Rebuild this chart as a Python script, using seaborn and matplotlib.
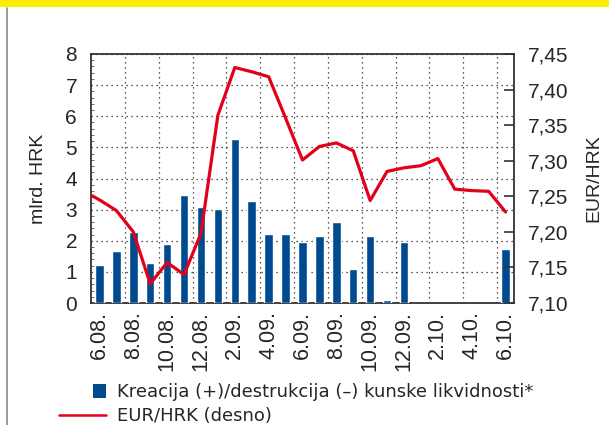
import numpy as np
import pandas as pd
import matplotlib
matplotlib.use("Agg")
import matplotlib.pyplot as plt
import seaborn as sns
from matplotlib.patches import Rectangle
from matplotlib.lines import Line2D
from matplotlib.legend_handler import HandlerPatch
from matplotlib.ticker import MultipleLocator, FuncFormatter

# monthly data, 6.08. - 6.10.
months = ["6.08.", "7.08.", "8.08.", "9.08.", "10.08.", "11.08.", "12.08.",
          "1.09.", "2.09.", "3.09.", "4.09.", "5.09.", "6.09.", "7.09.",
          "8.09.", "9.09.", "10.09.", "11.09.", "12.09.", "1.10.", "2.10.",
          "3.10.", "4.10.", "5.10.", "6.10."]
# no creation of liquidity 1.10. - 5.10.
liquidity = [1.22, 1.67, 2.28, 1.28, 1.90, 3.47, 3.08, 3.02, 5.27, 3.28,
             2.22, 2.22, 1.96, 2.15, 2.60, 1.09, 2.15, 0.10, 1.96,
             None, None, None, None, None, 1.74]
# previous month (5.08.) is kept so the line runs in from the left edge
eur_hrk_prev = 7.258
eur_hrk = [7.245, 7.230, 7.200, 7.127, 7.157, 7.140, 7.198, 7.364, 7.431,
           7.425, 7.418, 7.360, 7.301, 7.320, 7.325, 7.314, 7.244, 7.285,
           7.290, 7.293, 7.303, 7.260, 7.258, 7.257, 7.228]

BLUE = "#004b8f"
RED = "#e2001a"
FONT = ["Liberation Sans", "DejaVu Sans"]

sns.set_style("white")
plt.rcParams["font.family"] = FONT

bars = pd.DataFrame({"month": months, "value": pd.to_numeric(pd.Series(liquidity, dtype="float"))})
line = pd.DataFrame({"pos": np.arange(-1, len(months)),
                     "rate": [eur_hrk_prev] + eur_hrk})

fig = plt.figure(figsize=(6.09, 4.25), dpi=100)
ax = fig.add_axes([0.1494, 0.287, 0.6946, 0.586])

sns.barplot(data=bars, x="month", y="value", color=BLUE, width=0.5,
            saturation=1, ax=ax, zorder=3)
ax.set_xlim(-0.5, len(months) - 0.5)
ax.set_ylim(0, 8)
ax.yaxis.set_major_locator(MultipleLocator(1))
ax.yaxis.set_minor_locator(MultipleLocator(0.2))
ax.set_xticks(np.arange(0, len(months), 2))
ax.set_xticklabels(months[::2], rotation=90, fontsize=15.5)
ax.set_xticks(np.arange(1.5, len(months) - 1, 2), minor=True)
ax.tick_params(axis="x", which="both", length=0, pad=6)
ax.tick_params(axis="y", which="major", labelsize=15, length=0, pad=10)
ax.tick_params(axis="y", which="minor", direction="in", length=2,
               width=0.6, color="#555555")
ax.set_xlabel("")
ax.set_ylabel("mlrd. HRK", fontsize=14, labelpad=13)
ax.grid(True, which="minor", axis="x", linestyle=(0, (1, 3)),
        color="#222222", linewidth=0.9)
ax.grid(True, which="major", axis="y", linestyle=(0, (1, 3)),
        color="#222222", linewidth=0.9)
ax.grid(False, which="minor", axis="y")
ax.grid(False, which="major", axis="x")
ax.set_axisbelow(True)
for s in ax.spines.values():
    s.set_color("#333333")
    s.set_linewidth(1.3)
    s.set_visible(True)

ax2 = ax.twinx()
sns.lineplot(data=line, x="pos", y="rate", color=RED, linewidth=2.3,
             ax=ax2, zorder=4)
ax2.set_xlim(-0.5, len(months) - 0.5)
ax2.set_ylim(7.10, 7.45)
ax2.yaxis.set_major_locator(MultipleLocator(0.05))
ax2.yaxis.set_major_formatter(FuncFormatter(lambda v, p: f"{v:.2f}".replace(".", ",")))
ax2.tick_params(axis="y", labelsize=15, direction="in", length=7,
                width=1.2, color="#333333", pad=10)
ax2.set_ylabel("EUR/HRK", fontsize=14, labelpad=12)
ax2.set_xlabel("")
for s in ax2.spines.values():
    s.set_visible(False)


def right_square(legend, orig_handle, xdescent, ydescent, width, height, fontsize):
    side = 9.5
    return Rectangle((width - side - xdescent, -ydescent + (height - side) / 2),
                     side, side)


h_bar = Rectangle((0, 0), 1, 1, facecolor=BLUE, edgecolor="none")
h_line = Line2D([], [], color=RED, linewidth=1.8)
fig.legend([h_bar, h_line],
           ["Kreacija (+)/destrukcija (–) kunske likvidnosti*", "EUR/HRK (desno)"],
           loc="upper left", bbox_to_anchor=(0.097, 0.098), frameon=False,
           prop={"family": ["DejaVu Sans"], "size": 13},
           handlelength=2.6, handletextpad=0.6, labelspacing=0.32,
           borderpad=0, borderaxespad=0,
           handler_map={Rectangle: HandlerPatch(patch_func=right_square)})

# yellow header strip and page rule
fig.patches.append(Rectangle((0, 1 - 7 / 425), 1, 7 / 425, transform=fig.transFigure,
                             facecolor="#ffed00", edgecolor="none"))
fig.lines.append(Line2D([7 / 609, 7 / 609], [0, 1 - 8 / 425], transform=fig.transFigure,
                        color="#888888", linewidth=1.2))

fig.savefig("out.png", dpi=100)
